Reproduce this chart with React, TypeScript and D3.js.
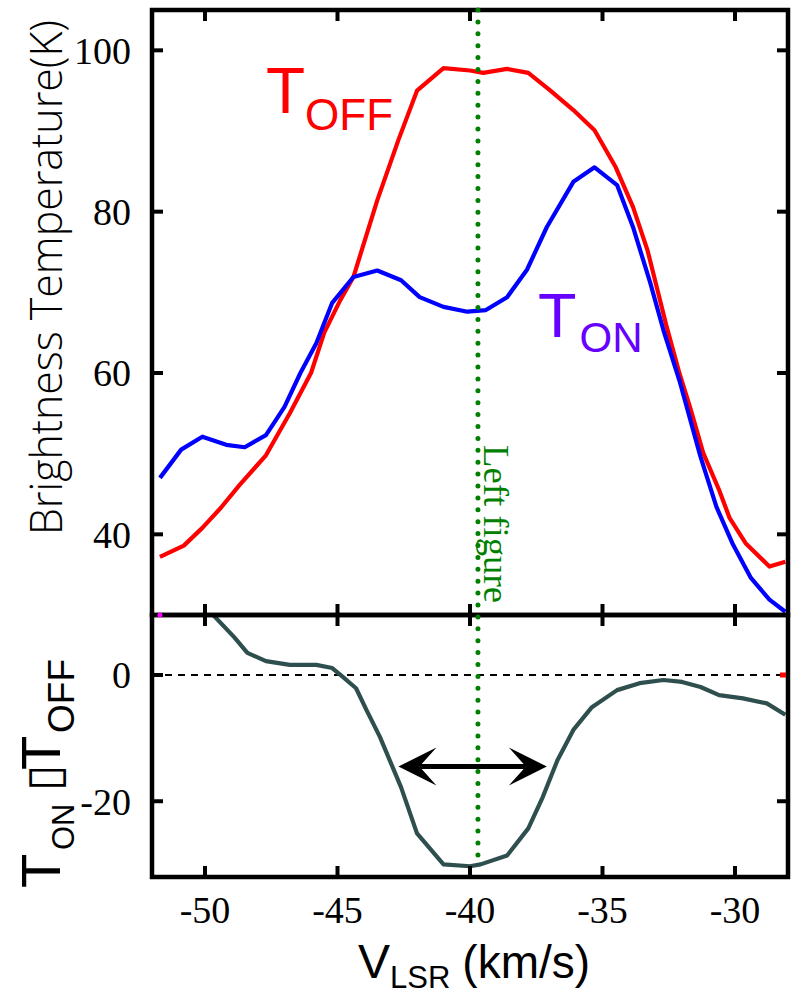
import React from "react";
import * as d3 from "d3";

// Off-source brightness temperature profile (K) against LSR velocity (km/s)
const offVelocity = [-51.7, -50.8, -50.1, -49.4, -48.7, -47.7, -46.8, -46.0, -45.5, -44.9, -44.4, -43.5, -42.7, -42.0, -41.0, -40.0, -39.5, -38.6, -37.8, -37.0, -36.1, -35.3, -34.5, -33.85, -33.3, -32.6, -32.1, -31.7, -31.2, -30.6, -30.2, -29.6, -28.7, -28.1];
const offTemp = [37.2, 38.6, 40.8, 43.3, 46.1, 49.8, 55.0, 60.0, 65.0, 69.0, 71.9, 81.4, 88.9, 95.0, 97.8, 97.5, 97.2, 97.7, 97.2, 95.1, 92.6, 90.1, 85.5, 80.6, 75.2, 66.0, 60.0, 55.8, 50.1, 45.5, 42.0, 38.9, 36.0, 36.6];

// On-source brightness temperature profile (K)
const onVelocity = [-51.7, -50.9, -50.1, -49.2, -48.5, -47.7, -47.0, -46.4, -45.8, -45.2, -44.4, -43.5, -42.6, -41.9, -41.0, -40.1, -39.4, -38.6, -37.85, -37.1, -36.1, -35.3, -34.45, -33.85, -33.2, -32.7, -32.1, -31.3, -30.7, -30.1, -29.4, -28.7, -28.1];
const onTemp = [47.0, 50.5, 52.1, 51.1, 50.8, 52.3, 55.8, 60.0, 63.7, 68.7, 71.9, 72.7, 71.5, 69.4, 68.2, 67.6, 67.8, 69.4, 72.8, 78.1, 83.7, 85.5, 83.3, 78.1, 71.2, 65.3, 59.1, 49.6, 43.4, 38.9, 34.6, 31.9, 30.4];

// Difference spectrum T_ON - T_OFF (K)
const diffVelocity = [-50.1, -48.9, -48.4, -47.7, -46.8, -45.8, -45.2, -44.8, -44.3, -43.9, -43.4, -42.6, -42.0, -41.0, -40.0, -39.6, -38.6, -37.8, -37.25, -36.7, -36.1, -35.4, -34.45, -33.6, -32.7, -32.0, -31.3, -30.6, -29.7, -28.8, -28.1];
const diffTemp = [11.3, 6.0, 3.5, 2.2, 1.6, 1.6, 1.1, -0.3, -2.1, -5.6, -9.8, -17.8, -25.1, -30.0, -30.3, -30.0, -28.6, -24.3, -19.3, -13.5, -8.7, -5.1, -2.4, -1.3, -0.8, -1.1, -1.9, -3.2, -3.7, -4.5, -6.3];

const xTickValues = [-50, -45, -40, -35, -30];
const topTickValues = [40, 60, 80, 100];
const bottomTickValues = [-20, 0];

// Velocity of the cut shown in the left-hand figure
const leftFigureVelocity = -39.7;
const leftFigureDiff = -30.0;
// Width marker across the absorption dip
const widthStart = -42.7;
const widthEnd = -37.1;
const widthLevel = -14.5;

export default function App() {
  const W = 796;
  const H = 994;
  const left = 152;
  const right = 788;
  const top = 10;
  const mid = 615;
  const bottom = 877;

  const x = d3.scaleLinear().domain([-52, -28]).range([left, right]);
  const yTop = d3.scaleLinear().domain([30, 105]).range([mid, top]);
  const yBot = d3.scaleLinear().domain([-32, 9.5]).range([bottom, mid]);

  const topLine = d3
    .line<[number, number]>()
    .x((d) => x(d[0]))
    .y((d) => yTop(d[1]));
  const botLine = d3
    .line<[number, number]>()
    .x((d) => x(d[0]))
    .y((d) => yBot(d[1]));

  const offPts = offVelocity.map((v, i) => [v, offTemp[i]] as [number, number]);
  const onPts = onVelocity.map((v, i) => [v, onTemp[i]] as [number, number]);
  const diffPts = diffVelocity.map((v, i) => [v, diffTemp[i]] as [number, number]);

  const tick = 11;
  const serif = "'Liberation Serif', 'Times New Roman', serif";
  const sans = "'Liberation Sans', Arial, sans-serif";

  const ax1 = x(widthStart);
  const ax2 = x(widthEnd);
  const ay = yBot(widthLevel);
  const headL = 38;
  const headW = 19;
  const notch = 21;

  const lx = x(leftFigureVelocity);

  return (
    <svg
      width={W}
      height={H}
      viewBox={`0 0 ${W} ${H}`}
      style={{ position: "absolute", left: 0, top: 0, background: "#fff" }}
    >
      <defs>
        <clipPath id="clipTop">
          <rect x={left} y={top} width={right - left} height={mid - top} />
        </clipPath>
        <clipPath id="clipBot">
          <rect x={left} y={mid} width={right - left} height={bottom - mid} />
        </clipPath>
      </defs>

      {/* zero level of the difference panel */}
      <line
        x1={left}
        x2={right}
        y1={yBot(0)}
        y2={yBot(0)}
        stroke="#000"
        strokeWidth={2}
        strokeDasharray="7 6"
      />

      {/* spectra */}
      <g clipPath="url(#clipTop)">
        <path d={topLine(offPts) || ""} fill="none" stroke="#ff0000" strokeWidth={4.2} strokeLinejoin="round" />
        <path d={topLine(onPts) || ""} fill="none" stroke="#0000ff" strokeWidth={4.2} strokeLinejoin="round" />
      </g>
      <g clipPath="url(#clipBot)">
        <path d={botLine(diffPts) || ""} fill="none" stroke="#2f4f4f" strokeWidth={4.2} strokeLinejoin="round" />
      </g>

      {/* frames */}
      <rect x={left} y={top} width={right - left} height={mid - top} fill="none" stroke="#000" strokeWidth={4.5} />
      <rect x={left} y={mid} width={right - left} height={bottom - mid} fill="none" stroke="#000" strokeWidth={4.5} />

      {/* x ticks */}
      {xTickValues.map((v) => (
        <g key={"xt" + v} stroke="#000" strokeWidth={4}>
          <line x1={x(v)} x2={x(v)} y1={top} y2={top + tick} />
          <line x1={x(v)} x2={x(v)} y1={mid - tick} y2={mid + tick} />
          <line x1={x(v)} x2={x(v)} y1={bottom - tick} y2={bottom} />
        </g>
      ))}
      {xTickValues.map((v) => (
        <text
          key={"xl" + v}
          x={x(v)}
          y={923}
          textAnchor="middle"
          fontFamily={serif}
          fontSize={38}
          fill="#000"
        >
          {v}
        </text>
      ))}

      {/* top panel y ticks */}
      {topTickValues.map((v) => (
        <g key={"yt" + v} stroke="#000" strokeWidth={4}>
          <line x1={left} x2={left + tick} y1={yTop(v)} y2={yTop(v)} />
          <line x1={right - tick} x2={right} y1={yTop(v)} y2={yTop(v)} />
        </g>
      ))}
      {topTickValues.map((v) => (
        <text
          key={"yl" + v}
          x={131}
          y={yTop(v)}
          dy="0.35em"
          textAnchor="end"
          fontFamily={serif}
          fontSize={38}
          fill="#000"
        >
          {v}
        </text>
      ))}

      {/* bottom panel y ticks */}
      {bottomTickValues.map((v) => (
        <line
          key={"bt" + v}
          x1={left}
          x2={left + tick}
          y1={yBot(v)}
          y2={yBot(v)}
          stroke="#000"
          strokeWidth={4}
        />
      ))}
      <line x1={right - tick} x2={right} y1={yBot(-20)} y2={yBot(-20)} stroke="#000" strokeWidth={4} />
      <rect x={right - 8} y={yBot(0) - 2.5} width={6} height={5} fill="#ff0000" />
      <circle cx={x(-51.7)} cy={yTop(30)} r={2.5} fill="#ff00ff" />
      {bottomTickValues.map((v) => (
        <text
          key={"bl" + v}
          x={131}
          y={yBot(v)}
          dy="0.35em"
          textAnchor="end"
          fontFamily={serif}
          fontSize={38}
          fill="#000"
        >
          {v}
        </text>
      ))}

      {/* dotted marker for the left-hand figure */}
      <line
        x1={lx}
        x2={lx}
        y1={yTop(105)}
        y2={yBot(leftFigureDiff)}
        stroke="#008000"
        strokeWidth={5}
        strokeLinecap="round"
        strokeDasharray="0 11.9"
      />
      <text
        transform={`translate(${lx + 6}, 445) rotate(90)`}
        fontFamily={serif}
        fontSize={36}
        fill="#008000"
        textLength={158}
        lengthAdjust="spacingAndGlyphs"
      >
        Left figure
      </text>

      {/* double-headed width arrow */}
      <line x1={ax1 + notch} x2={ax2 - notch} y1={ay} y2={ay} stroke="#000" strokeWidth={5} />
      <path
        d={`M${ax2},${ay} L${ax2 - headL},${ay - headW} L${ax2 - notch},${ay} L${ax2 - headL},${ay + headW} Z`}
        fill="#000"
      />
      <path
        d={`M${ax1},${ay} L${ax1 + headL},${ay - headW} L${ax1 + notch},${ay} L${ax1 + headL},${ay + headW} Z`}
        fill="#000"
      />

      {/* series labels */}
      <text x={266} y={113} fontFamily={sans} fill="#ff0000">
        <tspan fontSize={64}>T</tspan>
        <tspan fontSize={44} dy={17}>OFF</tspan>
      </text>
      <text x={538} y={337} fontFamily={sans} fill="#6600ff">
        <tspan fontSize={63}>T</tspan>
        <tspan fontSize={42} dy={15} dx={3}>ON</tspan>
      </text>

      {/* axis titles */}
      <text
        transform="translate(62, 0) rotate(-90)"
        x={-535}
        y={0}
        fontFamily="'Open Sans', 'Noto Sans', sans-serif"
        fontWeight={350}
        fontSize={44}
        fill="#000"
        textLength={515}
        lengthAdjust="spacingAndGlyphs"
      >
        Brightness Temperature(K)
      </text>

      <text transform="translate(60, 888) rotate(-90)" fontFamily={sans} fill="#000">
        <tspan x={0} y={0} fontSize={56}>T</tspan>
        <tspan x={38} y={14} fontSize={31}>ON</tspan>
        <tspan x={97} y={0} fontSize={48} fontFamily="'DejaVu Sans', sans-serif">▯</tspan>
        <tspan x={118} y={0} fontSize={56}>T</tspan>
        <tspan x={155} y={14} fontSize={37}>OFF</tspan>
      </text>

      <text x={358} y={978} fontFamily={sans} fill="#000">
        <tspan fontSize={48}>V</tspan>
        <tspan fontSize={31} dy={10}>LSR</tspan>
        <tspan fontSize={46} dy={-10} dx={12}>(km/s)</tspan>
      </text>
    </svg>
  );
}
